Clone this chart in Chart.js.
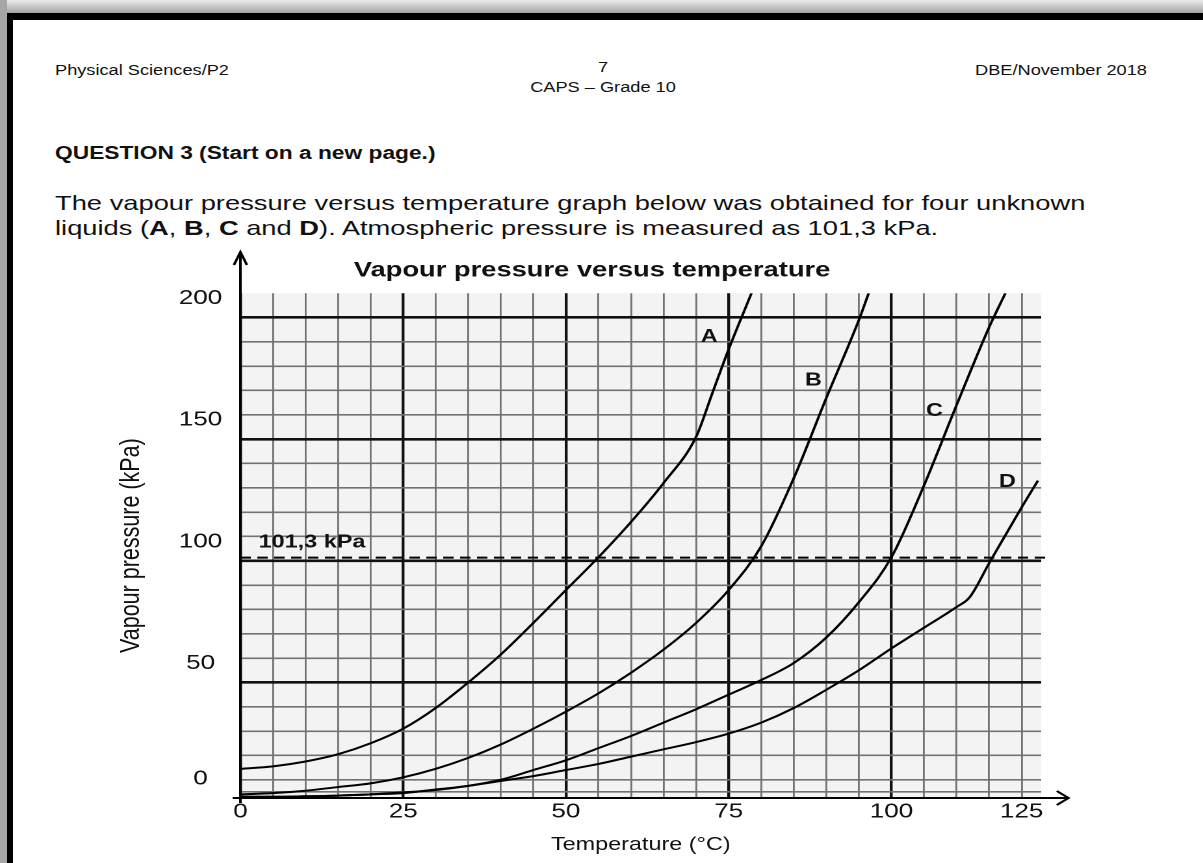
<!DOCTYPE html>
<html>
<head>
<meta charset="utf-8">
<title>Vapour pressure versus temperature</title>
<script src="https://cdn.jsdelivr.net/npm/chart.js@4.4.1/dist/chart.umd.min.js"></script>
<style>
  html, body { margin: 0; padding: 0; background: #fff; }
  body { width: 1203px; height: 863px; position: relative; overflow: hidden; font-family: "Liberation Sans", Arial, sans-serif; color: #111; }
  .topband { position: absolute; left: 0; top: 0; width: 1203px; height: 14px; background: linear-gradient(#ececec, #9c9c9c); }
  .leftband { position: absolute; left: 0; top: 0; width: 7px; height: 863px; background: #a6a6a6; }
  .frame { position: absolute; left: 7px; top: 13px; width: 1196px; height: 850px; border-left: 6px solid #000; border-top: 7px solid #000; box-sizing: border-box; }
  /* the scanned page is stretched sideways, so the text is too */
  .txt { position: absolute; white-space: nowrap; line-height: 1; transform-origin: 0 0; transform: scaleX(1.3); }
  .mid { transform: scaleX(1.3) translateX(-50%); }
  .end { transform: scaleX(1.3) translateX(-100%); }
  .hdr { font-size: 14px; }
  .q { font-size: 17.5px; font-weight: bold; }
  .body { font-size: 21px; }
  #chartBox { position: absolute; left: 100px; top: 240px; width: 770px; height: 623px; transform-origin: 0 0; transform: scaleX(1.3); }
</style>
</head>
<body>
<div class="topband"></div>
<div class="leftband"></div>
<div class="frame"></div>

<div class="txt hdr" style="left:55px; top:63px;">Physical Sciences/P2</div>
<div class="txt hdr mid" style="left:603px; top:60px;">7</div>
<div class="txt hdr mid" style="left:603px; top:80px;">CAPS – Grade 10</div>
<div class="txt hdr end" style="left:1147px; top:63px;">DBE/November 2018</div>

<div class="txt q" style="left:55px; top:145px;">QUESTION 3 (Start on a new page.)</div>
<div class="txt body" style="left:55px; top:192px;">The vapour pressure versus temperature graph below was obtained for four unknown</div>
<div class="txt body" style="left:55px; top:217px;">liquids (<b>A</b>, <b>B</b>, <b>C</b> and <b>D</b>). Atmospheric pressure is measured as 101,3 kPa.</div>

<div id="chartBox"><canvas id="vp" width="770" height="623"></canvas></div>

<script>
// ── data (temperature in °C, vapour pressure in kPa) ──
const tempA = [0, 5, 10, 15, 20, 25, 30, 35, 40, 45, 50, 55, 60, 65, 70, 72.5, 75, 78.5];
const pressA = [14.5, 15.5, 17.5, 20.5, 25, 31, 39.5, 50, 61.5, 74.5, 88, 101.5, 116, 132, 151, 169, 187, 210];

const tempB = [0, 5, 10, 15, 20, 25, 30, 35, 40, 45, 50, 55, 60, 65, 70, 75, 80, 85, 90, 95, 96.5];
const pressB = [4, 4.5, 5.5, 7, 8.5, 11, 14.5, 19, 24.5, 31, 38, 45.5, 54, 63.5, 74.5, 88, 106, 134, 167, 199, 210];

const tempC = [0, 5, 10, 15, 20, 25, 30, 35, 40, 45, 50, 55, 60, 65, 70, 75, 80, 85, 90, 95, 100, 105, 110, 115, 117.5];
const pressC = [3, 3, 3.2, 3.5, 4, 4.5, 6, 7.5, 10, 14, 18, 23, 28, 33.5, 39, 45, 51, 58, 68.5, 83, 101.5, 131, 164, 196, 210];

const tempD = [0, 5, 10, 15, 20, 25, 30, 35, 40, 45, 50, 55, 60, 65, 70, 75, 80, 85, 90, 95, 100, 105, 110, 112, 115, 120, 122.5];
const pressD = [3, 3, 3.2, 3.5, 4, 4.8, 5.8, 7.5, 9.5, 11.5, 14, 16.5, 19.5, 22.5, 25.5, 29, 33.5, 39.5, 47, 55, 64, 72.5, 81, 85, 99, 122, 133];

const atmTemp = [0, 124];
const atmPress = [101.3, 101.3];

// grid lines and tick labels as printed on the page
const tempGrid = [0, 5, 10, 15, 20, 25, 30, 35, 40, 45, 50, 55, 60, 65, 70, 75, 80, 85, 90, 95, 100, 105, 110, 115, 120];
const tempLabelAt = [0, 25, 50, 75, 100, 120];
const tempLabels = ['0', '25', '50', '75', '100', '125'];
const pressGrid = [2.5, 5, 10, 20, 30, 40, 50, 60, 70, 80, 90, 100, 110, 120, 130, 140, 150, 160, 170, 180, 190, 200];
const pressLabelAt = [2.5, 50, 100, 150, 200];
const pressLabels = ['0', '50', '100', '150', '200'];

const FONT = '"Liberation Sans", Arial, sans-serif';
const toPoints = (xs, ys) => xs.map((x, i) => ({ x, y: ys[i] }));

function curve(label, xs, ys) {
  return {
    label,
    data: toPoints(xs, ys),
    showLine: true,
    borderColor: '#000',
    borderWidth: 2,
    pointRadius: 0,
    cubicInterpolationMode: 'monotone',
    fill: false,
  };
}

// Draws the grey paper, the arrowed axes and the text written on the graph
const paperPlugin = {
  id: 'paper',
  beforeDraw(chart) {
    const { ctx, chartArea: a } = chart;
    ctx.save();
    ctx.fillStyle = '#f3f3f3';
    ctx.fillRect(a.left, a.top, a.right - a.left, a.bottom - a.top);
    ctx.restore();
  },
  afterDatasetsDraw(chart, args, opts) {
    const { ctx, chartArea: a, scales: { x, y } } = chart;
    ctx.save();
    ctx.strokeStyle = '#000';
    ctx.lineWidth = 2;
    ctx.beginPath();
    ctx.moveTo(a.left, a.bottom + 5);
    ctx.lineTo(a.left, 12);
    ctx.moveTo(a.left - 5, 25);
    ctx.lineTo(a.left, 12);
    ctx.lineTo(a.left + 5, 25);
    ctx.moveTo(a.left - 6, a.bottom);
    ctx.lineTo(a.right + 21, a.bottom);
    ctx.moveTo(a.right + 12, a.bottom - 7);
    ctx.lineTo(a.right + 21, a.bottom);
    ctx.lineTo(a.right + 12, a.bottom + 7);
    ctx.stroke();

    ctx.fillStyle = '#111';
    ctx.textBaseline = 'middle';
    opts.notes.forEach((n) => {
      ctx.font = `bold ${n.size}px ${FONT}`;
      ctx.textAlign = n.align;
      ctx.fillText(n.text, x.getPixelForValue(n.x), y.getPixelForValue(n.y));
    });
    ctx.restore();
  },
};

new Chart(document.getElementById('vp'), {
  type: 'scatter',
  data: {
    datasets: [
      curve('A', tempA, pressA),
      curve('B', tempB, pressB),
      curve('C', tempC, pressC),
      curve('D', tempD, pressD),
      {
        label: '101,3 kPa',
        data: toPoints(atmTemp, atmPress),
        showLine: true,
        borderColor: '#000',
        borderWidth: 2,
        borderDash: [8, 5],
        pointRadius: 0,
        clip: false,
      },
    ],
  },
  plugins: [paperPlugin],
  options: {
    responsive: false,
    devicePixelRatio: 2,
    animation: false,
    layout: { padding: { left: 33, right: 46, top: 0, bottom: 0 } },
    scales: {
      x: {
        type: 'linear',
        min: 0,
        max: 123,
        afterBuildTicks: (s) => { s.ticks = tempGrid.map((v) => ({ value: v })); },
        afterFit: (s) => { s.height = 65; },
        border: { display: false },
        grid: {
          drawTicks: false,
          color: (c) => (c.tick.value % 25 === 0 ? '#111' : '#727272'),
          lineWidth: (c) => (c.tick.value % 25 === 0 ? 2.2 : 1.4),
        },
        ticks: {
          autoSkip: false,
          maxRotation: 0,
          padding: 2,
          color: '#111',
          font: { family: FONT, size: 20 },
          callback: (v) => {
            const i = tempLabelAt.indexOf(v);
            return i >= 0 ? tempLabels[i] : '';
          },
        },
        title: {
          display: true,
          text: 'Temperature (°C)',
          color: '#111',
          font: { family: FONT, size: 18 },
          padding: { top: 0, bottom: 7 },
        },
      },
      y: {
        type: 'linear',
        min: 2.5,
        max: 210,
        afterBuildTicks: (s) => { s.ticks = pressGrid.map((v) => ({ value: v })); },
        afterFit: (s) => { s.width = 75; },
        border: { display: false },
        grid: {
          drawTicks: false,
          color: (c) => (c.tick.value % 50 === 0 ? '#111' : '#727272'),
          lineWidth: (c) => (c.tick.value % 50 === 0 ? 2.6 : 1.6),
        },
        ticks: {
          autoSkip: false,
          padding: 14,
          crossAlign: 'center',
          labelOffset: -19,
          color: '#111',
          font: { family: FONT, size: 20 },
          callback: (v) => {
            const i = pressLabelAt.indexOf(v);
            return i >= 0 ? pressLabels[i] : '';
          },
        },
        title: {
          display: true,
          text: 'Vapour pressure (kPa)',
          color: '#111',
          font: { family: FONT, size: 21.5 },
          padding: { top: -22, bottom: 0 },
        },
      },
    },
    plugins: {
      legend: { display: false },
      tooltip: { enabled: false },
      title: {
        display: true,
        text: 'Vapour pressure versus temperature',
        color: '#111',
        font: { family: FONT, size: 21, weight: 'bold' },
        padding: { top: 18, bottom: 10 },
      },
      paper: {
        notes: [
          { text: 'A', x: 72, y: 192, size: 18, align: 'center' },
          { text: 'B', x: 88, y: 174, size: 18, align: 'center' },
          { text: 'C', x: 106.6, y: 161.5, size: 18, align: 'center' },
          { text: 'D', x: 117.8, y: 132.3, size: 18, align: 'center' },
          { text: '101,3 kPa', x: 2.8, y: 107.5, size: 18, align: 'left' },
        ],
      },
    },
  },
});
</script>
</body>
</html>
